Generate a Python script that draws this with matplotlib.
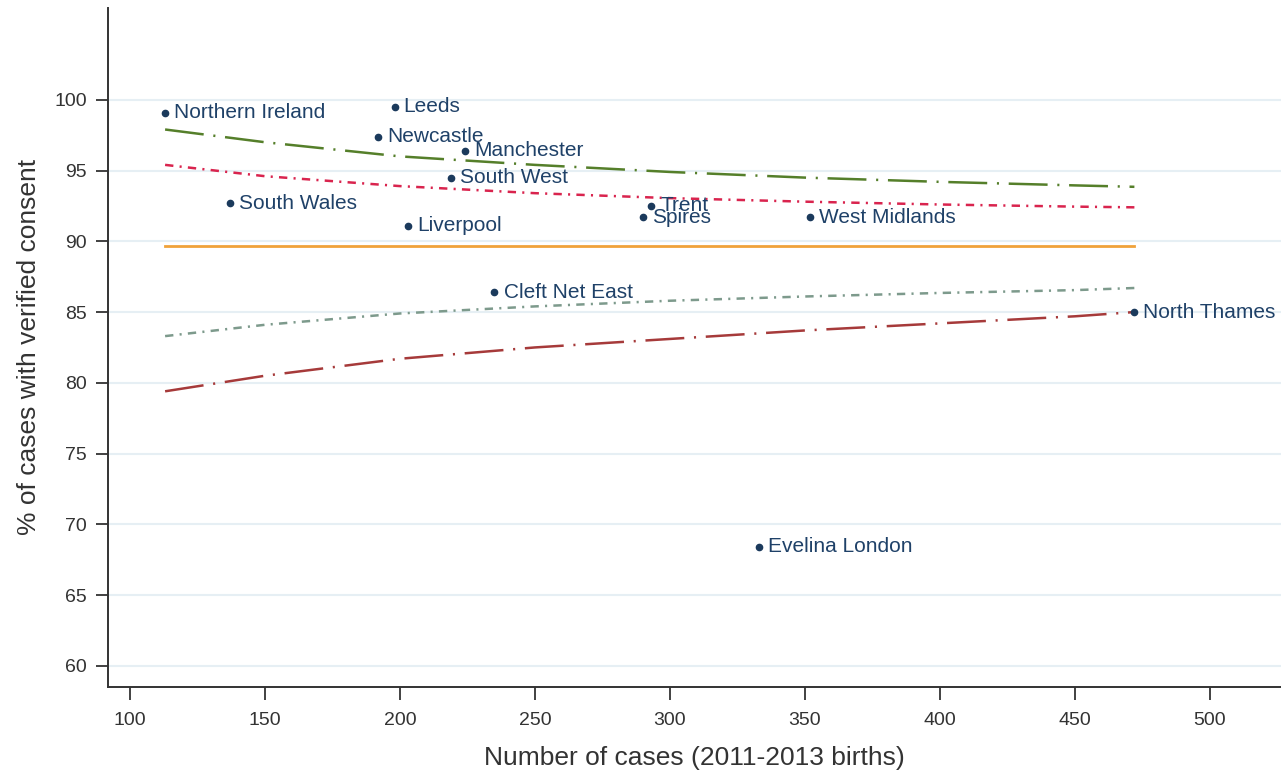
import matplotlib
matplotlib.use("Agg")
import matplotlib.pyplot as plt

plt.rcParams["font.family"] = ["Liberation Sans", "DejaVu Sans"]
plt.rcParams["lines.scale_dashes"] = False

# centres, number of cases and % with verified consent
centres = [
    "Northern Ireland", "Leeds", "Newcastle", "Manchester", "South West",
    "South Wales", "Liverpool", "Trent", "Spires", "West Midlands",
    "Cleft Net East", "North Thames", "Evelina London",
]
n_cases = [113, 198, 192, 224, 219, 137, 203, 293, 290, 352, 235, 472, 333]
pct_consent = [99.1, 99.5, 97.4, 96.4, 94.5, 92.7, 91.1, 92.5, 91.7, 91.7, 86.4, 85.0, 68.4]

# funnel limits
limit_n = [113, 150, 200, 250, 300, 350, 400, 450, 472]
upper_outer = [97.9, 97.0, 96.0, 95.4, 94.9, 94.5, 94.2, 93.95, 93.85]
upper_inner = [95.4, 94.6, 93.9, 93.4, 93.05, 92.8, 92.6, 92.45, 92.4]
lower_inner = [83.3, 84.1, 84.9, 85.4, 85.8, 86.1, 86.35, 86.55, 86.7]
lower_outer = [79.4, 80.5, 81.7, 82.5, 83.1, 83.7, 84.2, 84.7, 85.0]
target = 89.7

x_ticks = [100, 150, 200, 250, 300, 350, 400, 450, 500]
y_ticks = [60, 65, 70, 75, 80, 85, 90, 95, 100]

fig = plt.figure(figsize=(12.81, 7.79), dpi=100)
ax = fig.add_axes([0.0843, 0.118, 0.9157, 0.872])

for y in y_ticks:
    ax.axhline(y, color="#e6eff4", lw=1.5, zorder=0)

long_dd = (0, (28, 7, 1.5, 7))
short_dd = (0, (6, 4.5, 1.5, 4.5))

ax.plot(limit_n, upper_outer, color="#557f2a", lw=1.8, linestyle=long_dd)
ax.plot(limit_n, upper_inner, color="#d9244e", lw=1.8, linestyle=short_dd)
ax.plot([limit_n[0], limit_n[-1]], [target, target], color="#f0a23a", lw=2.0)
ax.plot(limit_n, lower_inner, color="#7d9a8c", lw=1.8, linestyle=short_dd)
ax.plot(limit_n, lower_outer, color="#a63a3a", lw=1.8, linestyle=long_dd)

ax.plot(n_cases, pct_consent, "o", color="#1b3a5c", ms=4.5, zorder=5)
for nombre, x, y in zip(centres, n_cases, pct_consent):
    ax.annotate(nombre, (x, y), xytext=(6.5, 0), textcoords="offset points",
                va="center", ha="left", fontsize=15, color="#1f4168", zorder=6)

ax.set_xlim(91.85, 526.3)
ax.set_ylim(58.5, 106.5)
ax.set_xticks(x_ticks)
ax.set_yticks(y_ticks)
ax.tick_params(axis="both", length=9, width=1.3, color="#333333",
               labelsize=14, labelcolor="#333333", pad=6)
ax.tick_params(axis="x", pad=9)

for lado in ["top", "right"]:
    ax.spines[lado].set_visible(False)
for lado in ["left", "bottom"]:
    ax.spines[lado].set_color("#333333")
    ax.spines[lado].set_linewidth(1.4)

ax.set_xlabel("Number of cases (2011-2013 births)", fontsize=19, color="#333333", labelpad=12)
ax.set_ylabel("% of cases with verified consent", fontsize=19, color="#333333", labelpad=10)

fig.savefig("out.png", dpi=100)
